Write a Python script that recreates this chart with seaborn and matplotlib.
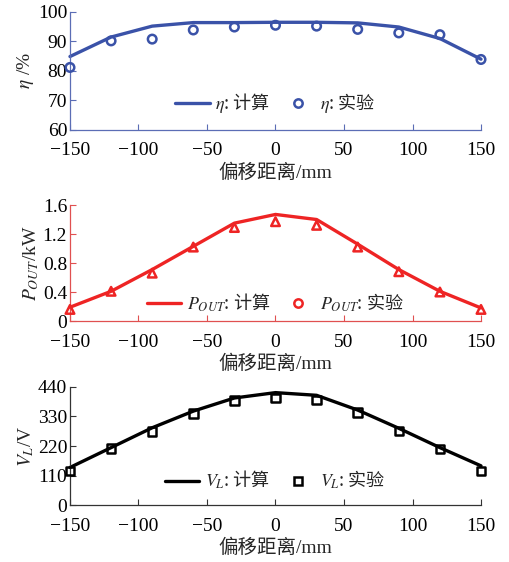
import numpy as np
import pandas as pd
import matplotlib
matplotlib.use("Agg")
import matplotlib.pyplot as plt
from matplotlib.lines import Line2D
import seaborn as sns

# ---- data ----
offset = [-150, -120, -90, -60, -30, 0, 30, 60, 90, 120, 150]
eta_calc = [84.9, 91.5, 95.2, 96.4, 96.4, 96.5, 96.5, 96.3, 94.9, 91.0, 84.0]
eta_exp = [81.2, 90.2, 90.8, 93.9, 94.9, 95.5, 95.2, 94.1, 92.9, 92.3, 83.9]
pout_calc = [0.19, 0.41, 0.71, 1.03, 1.35, 1.47, 1.40, 1.06, 0.71, 0.41, 0.18]
pout_exp = [0.16, 0.41, 0.66, 1.02, 1.29, 1.37, 1.32, 1.02, 0.68, 0.40, 0.16]
vl_calc = [140, 214, 288, 350, 399, 419, 409, 354, 286, 214, 146]
vl_exp = [127, 210, 274, 342, 389, 399, 391, 344, 276, 209, 127]

xticks = [-150, -100, -50, 0, 50, 100, 150]
eta_ticks = [60, 70, 80, 90, 100]
pout_ticks = [0, 0.4, 0.8, 1.2, 1.6]
pout_ticklabels = ["0", "0.4", "0.8", "1.2", "1.6"]
vl_ticks = [0, 110, 220, 330, 440]

xlabel = "偏移距离/mm"

sns.set_theme(style="ticks")
plt.rcParams["font.family"] = ["Liberation Serif", "Noto Sans CJK SC"]
plt.rcParams["mathtext.fontset"] = "stix"
plt.rcParams["axes.unicode_minus"] = True

BLUE = "#3a52a8"
RED = "#ee2424"
BLACK = "#000000"

fig = plt.figure(figsize=(5.09, 5.62), dpi=100)

panels = [
    dict(rect=[0.1375, 0.7687, 0.8075, 0.21], calc=eta_calc, exp=eta_exp,
         color=BLUE, spine="#5b6db5", marker="o", legmarker="o",
         ylim=(60, 100), yticks=eta_ticks, yticklabels=[str(t) for t in eta_ticks],
         ylabel=r"$\eta$ /%", lab=r"$\eta$", legy=0.23),
    dict(rect=[0.1375, 0.4288, 0.8075, 0.2064], calc=pout_calc, exp=pout_exp,
         color=RED, spine="#e05050", marker="^", legmarker="o",
         ylim=(0, 1.6), yticks=pout_ticks, yticklabels=pout_ticklabels,
         ylabel=r"$P_{OUT}$/kW", lab=r"$P_{OUT}$", legy=0.16),
    dict(rect=[0.1375, 0.1014, 0.8075, 0.21], calc=vl_calc, exp=vl_exp,
         color=BLACK, spine="#333333", marker="s", legmarker="s",
         ylim=(0, 440), yticks=vl_ticks, yticklabels=[str(t) for t in vl_ticks],
         ylabel=r"$V_L$/V", lab=r"$V_L$", legy=0.21),
]

for p in panels:
    ax = fig.add_axes(p["rect"])
    df = pd.DataFrame({"x": offset, "calc": p["calc"], "exp": p["exp"]})
    sns.lineplot(data=df, x="x", y="calc", ax=ax, color=p["color"], lw=2.4,
                 legend=False, clip_on=False)
    sns.scatterplot(data=df, x="x", y="exp", ax=ax, marker=p["marker"], s=38,
                    facecolor="none", edgecolor=p["color"], linewidth=1.8,
                    legend=False, clip_on=False, zorder=3)
    ax.set_xlim(-150, 150)
    ax.set_ylim(*p["ylim"])
    ax.set_xticks(xticks)
    ax.set_xticklabels([("\u2212" + str(-t)) if t < 0 else str(t) for t in xticks])
    ax.set_yticks(p["yticks"])
    ax.set_yticklabels(p["yticklabels"])
    ax.tick_params(direction="in", length=4, width=0.8, colors=p["spine"],
                   labelcolor="black", labelsize=14)
    ax.tick_params(axis="x", pad=9)
    ax.tick_params(axis="y", pad=2)
    for s in ["top", "right"]:
        ax.spines[s].set_visible(False)
    for s in ["left", "bottom"]:
        ax.spines[s].set_color(p["spine"])
        ax.spines[s].set_linewidth(0.9)
    ax.set_xlabel(xlabel, fontsize=14, labelpad=3)
    ax.set_ylabel(p["ylabel"], fontsize=14, labelpad=1)

    handles = [
        Line2D([], [], color=p["color"], lw=2.4),
        Line2D([], [], color=p["color"], lw=0, marker=p["legmarker"], ms=6,
               mfc="none", mew=1.8),
    ]
    labels = [p["lab"] + ": 计算", p["lab"] + ": 实验"]
    ax.legend(handles, labels, loc="center", bbox_to_anchor=(0.5, p["legy"]),
              ncol=2, frameon=False, handlelength=1.9, handletextpad=0.3,
              columnspacing=0.6, prop={"family": ["Noto Sans CJK SC"], "size": 13})

fig.savefig("out.png", dpi=100)
